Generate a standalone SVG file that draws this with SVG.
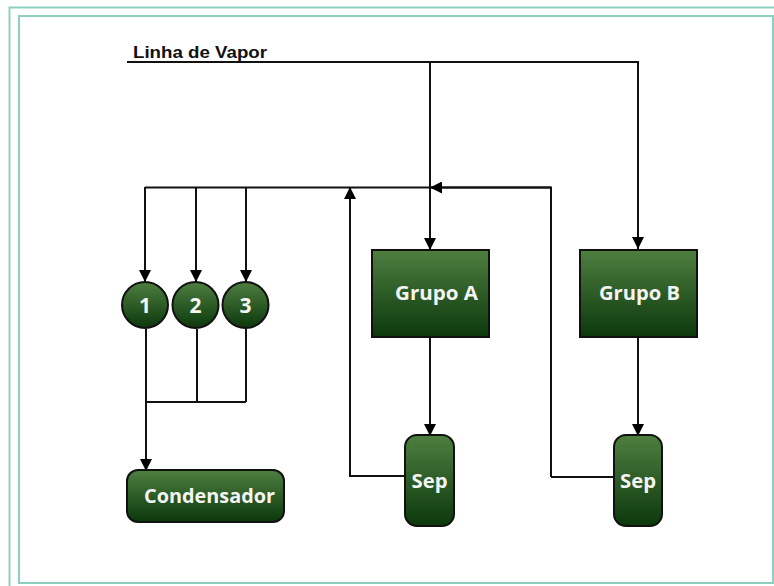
<svg xmlns="http://www.w3.org/2000/svg" width="774" height="586" viewBox="0 0 774 586">
  <defs>
    <linearGradient id="green" x1="0" y1="0" x2="0" y2="1">
      <stop offset="0" stop-color="#4e7f40"/>
      <stop offset="1" stop-color="#0c380c"/>
    </linearGradient>
    <marker id="arrow" viewBox="0 0 12 12" refX="12" refY="6" markerWidth="12" markerHeight="12" markerUnits="userSpaceOnUse" orient="auto">
      <path d="M0,0 L12,6 L0,12 z" fill="#000"/>
    </marker>
    <style>
      .frame { fill: none; stroke: #8fcfbf; stroke-width: 2; }
      .wire { fill: none; stroke: #111; stroke-width: 2; }
      .arr { marker-end: url(#arrow); }
      .node { fill: url(#green); stroke: #111; stroke-width: 2; }
      .label { font-family: "Open Sans", "Noto Sans", sans-serif; font-weight: bold; fill: #f4f4f4; text-anchor: middle; }
      .title { font-family: "Liberation Sans", Arial, sans-serif; font-weight: bold; font-size: 17px; fill: #111; }
    </style>
  </defs>

  <rect width="774" height="586" fill="#fff"/>

  <!-- page frame -->
  <rect class="frame" x="9.5" y="7.5" width="780" height="600"/>
  <rect class="frame" x="19" y="16" width="754" height="567"/>

  <text class="title" x="133" y="58" textLength="134" lengthAdjust="spacingAndGlyphs">Linha de Vapor</text>

  <g id="connectors">
    <!-- steam header -->
    <path class="wire arr" d="M127,62 H638 V249"/>
    <path class="wire arr" d="M430,62 V250"/>
    <!-- return header -->
    <path class="wire" d="M145,187.5 H551"/>
    <path class="wire arr" d="M551,477 V187.5 H430"/>
    <path class="wire" d="M551,477 H614"/>
    <path class="wire arr" d="M405,476 H350 V187"/>
    <!-- branches to consumers -->
    <path class="wire arr" d="M145,187 V282"/>
    <path class="wire arr" d="M196,187 V282"/>
    <path class="wire arr" d="M246,187 V282"/>
    <!-- groups to separators -->
    <path class="wire arr" d="M430,337 V436"/>
    <path class="wire arr" d="M638,337 V436"/>
    <!-- consumers to condenser -->
    <path class="wire" d="M197,329 V402 M246,329 V402 M146,402 H246"/>
    <path class="wire arr" d="M146,329 V471"/>
  </g>

  <g id="c1">
    <circle class="node" cx="145" cy="305" r="23"/>
    <text class="label" x="145" y="313" font-size="21">1</text>
  </g>
  <g id="c2">
    <circle class="node" cx="195.5" cy="305" r="23"/>
    <text class="label" x="195.5" y="313" font-size="21">2</text>
  </g>
  <g id="c3">
    <circle class="node" cx="245.5" cy="305" r="23"/>
    <text class="label" x="245.5" y="313" font-size="21">3</text>
  </g>

  <g id="grupoA">
    <rect class="node" x="372" y="250" width="117" height="87"/>
    <text class="label" x="436.5" y="300" font-size="19" textLength="83" lengthAdjust="spacingAndGlyphs">Grupo A</text>
  </g>
  <g id="grupoB">
    <rect class="node" x="580" y="250" width="117" height="87"/>
    <text class="label" x="639.5" y="300" font-size="19" textLength="81" lengthAdjust="spacingAndGlyphs">Grupo B</text>
  </g>

  <g id="sepA">
    <rect class="node" x="405" y="435" width="49" height="91" rx="12"/>
    <text class="label" x="429.5" y="488" font-size="19" textLength="36" lengthAdjust="spacingAndGlyphs">Sep</text>
  </g>
  <g id="sepB">
    <rect class="node" x="614" y="435" width="48" height="91" rx="12"/>
    <text class="label" x="638" y="488" font-size="19" textLength="36" lengthAdjust="spacingAndGlyphs">Sep</text>
  </g>

  <g id="condensador">
    <rect class="node" x="127" y="470" width="157" height="52" rx="11"/>
    <text class="label" x="209.5" y="503" font-size="19" textLength="131" lengthAdjust="spacingAndGlyphs">Condensador</text>
  </g>
</svg>
